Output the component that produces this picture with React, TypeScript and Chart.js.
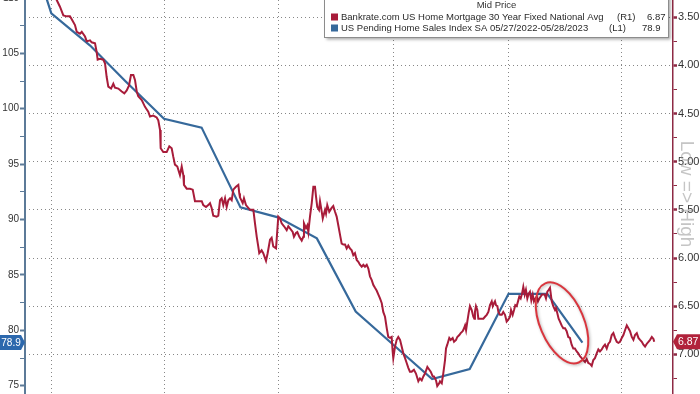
import React, { useEffect, useRef } from 'react';
import { Chart, registerables } from 'chart.js';

Chart.register(...registerables);

// ---------------- DATA ----------------
// x = days since 2021-12-11 (quarter starts: Jan 1 2022 = 21, Apr 1 = 111, ...)
const quarterStartDays = [21, 111, 202, 294, 386, 476];

// Bankrate.com US Home Mortgage 30 Year Fixed National Avg (R1, inverted)
const mortgageDays = [
  0, 8, 16, 21, 25.3, 27.9, 30.6, 33.3, 35.9, 37.3, 39.9, 41.3, 43.9, 45.3, 47.9, 49.3, 51.9, 53.2, 55.9, 57.2,
  58.0, 59.9, 62.5, 63.9, 65.2, 66.5, 68.7, 70.5, 71.8, 74.5, 77.2, 79.3, 81.2, 83.0, 84.6, 86.5, 87.8, 89.2, 90.4, 93.2,
  95.8, 98.4, 99.8, 102.4, 105.1, 106.4, 107.8, 108.3, 110.4, 113.1, 115.2, 117.1, 118.4, 119.7, 121.6, 123.7, 125.1, 126.4, 126.9, 129.1,
  131.7, 133.9, 135.7, 138.3, 141.1, 142.3, 144.5, 146.3, 147.7, 149.0, 150.3, 153.0, 154.3, 155.7, 157.0, 158.3, 159.7, 161.0, 162.3, 163.7,
  165.0, 166.3, 168.4, 170.3, 171.1, 171.6, 173.8, 174.8, 176.4, 179.6, 182.3, 183.6, 185.0, 186.2, 187.0, 188.9, 190.2, 192.4, 193.7, 195.6,
  196.9, 198.2, 200.4, 202.2, 203.6, 204.9, 206.8, 208.9, 210.2, 213.7, 214.7, 216.3, 217.4, 219.0, 220.9, 222.2, 222.7, 224.3, 225.4, 226.2,
  227.5, 228.9, 230.2, 231.5, 232.3, 233.3, 234.7, 235.5, 236.9, 237.7, 238.7, 239.5, 240.3, 241.3, 242.9, 244.8, 246.1, 247.5, 248.8, 250.1,
  251.5, 252.8, 254.1, 255.5, 256.8, 258.1, 259.4, 260.8, 262.1, 263.4, 264.8, 266.1, 267.4, 268.8, 270.1, 271.4, 272.8, 274.1, 275.4, 276.8,
  278.1, 279.4, 280.8, 282.1, 283.4, 284.8, 286.0, 287.4, 288.8, 290.0, 291.4, 292.7, 293.5, 294.0, 295.4, 296.7, 298.0, 299.4, 300.7, 302.0,
  303.4, 304.7, 306.0, 307.3, 308.7, 310.5, 312.1, 314.0, 315.3, 316.7, 318.0, 319.3, 321.2, 322.8, 323.9, 325.5, 326.5, 328.1, 329.1, 330.7,
  331.3, 332.7, 333.9, 335.3, 336.1, 337.1, 338.7, 339.8, 341.4, 342.5, 344.1, 345.1, 346.7, 347.8, 349.4, 350.5, 351.3, 352.1, 353.1, 354.2,
  355.2, 356.6, 357.9, 358.7, 359.2, 360.0, 361.1, 361.9, 363.2, 365.9, 367.2, 368.6, 369.9, 371.2, 372.6, 373.4, 374.4, 375.2, 376.0, 377.1,
  377.9, 379.2, 380.6, 381.8, 383.2, 384.5, 385.8, 387.2, 388.0, 389.3, 390.4, 391.4, 392.5, 393.8, 394.6, 395.7, 396.8, 397.8, 398.9, 399.9,
  401.0, 402.1, 403.1, 404.2, 405.3, 406.3, 407.4, 408.5, 409.5, 410.6, 411.7, 412.7, 414.9, 415.9, 417.0, 418.1, 419.1, 420.5, 421.7, 423.1,
  423.9, 424.9, 426.0, 427.1, 428.4, 429.7, 431.1, 432.4, 433.7, 435.0, 436.4, 437.7, 439.0, 440.4, 441.7, 443.0, 444.4, 445.7, 447.1, 448.4,
  449.7, 451.1, 452.4, 453.7, 455.0, 456.4, 457.7, 459.0, 460.4, 461.7, 463.0, 464.4, 465.7, 467.0, 468.4, 469.7, 471.0, 472.4, 473.7, 475.0,
  476.4, 477.7, 479.0, 480.4, 481.7, 483.0, 484.4, 485.7, 487.0, 488.4, 489.7, 491.0, 492.4, 493.7, 495.0, 496.4, 497.7, 499.0, 500.4, 501.7,
  502.3,
];
const mortgageRates = [
  3.12, 3.10, 3.13, 3.20, 3.32, 3.39, 3.48, 3.49, 3.49, 3.52, 3.58, 3.65, 3.67, 3.65, 3.70, 3.75, 3.74, 3.76, 3.77, 3.86,
  3.94, 3.93, 3.94, 3.98, 4.12, 4.22, 4.24, 4.19, 4.23, 4.24, 4.27, 4.29, 4.26, 4.21, 4.10, 4.10, 4.15, 4.27, 4.32, 4.36,
  4.43, 4.48, 4.53, 4.52, 4.54, 4.57, 4.67, 4.86, 4.90, 4.90, 4.84, 4.86, 4.95, 5.03, 5.05, 5.14, 5.05, 5.14, 5.24, 5.28,
  5.28, 5.29, 5.41, 5.41, 5.41, 5.45, 5.47, 5.45, 5.43, 5.48, 5.56, 5.57, 5.56, 5.40, 5.38, 5.45, 5.38, 5.47, 5.40, 5.38,
  5.40, 5.29, 5.26, 5.24, 5.33, 5.37, 5.43, 5.38, 5.45, 5.50, 5.50, 5.64, 5.78, 5.88, 5.95, 5.92, 5.95, 6.03, 5.95, 5.81,
  5.79, 5.88, 5.90, 5.57, 5.59, 5.64, 5.67, 5.71, 5.67, 5.73, 5.78, 5.74, 5.73, 5.78, 5.82, 5.78, 5.64, 5.69, 5.66, 5.73,
  5.57, 5.43, 5.26, 5.26, 5.36, 5.47, 5.50, 5.41, 5.52, 5.59, 5.54, 5.50, 5.54, 5.45, 5.52, 5.48, 5.46, 5.52, 5.57, 5.66,
  5.76, 5.85, 5.86, 5.86, 5.90, 5.87, 5.90, 5.92, 5.97, 5.95, 6.02, 6.04, 6.07, 6.09, 6.07, 6.09, 6.07, 6.11, 6.19, 6.23,
  6.28, 6.31, 6.34, 6.38, 6.42, 6.47, 6.56, 6.61, 6.73, 6.82, 6.83, 6.82, 6.97, 7.04, 6.92, 6.85, 6.82, 6.85, 6.92, 6.99,
  7.04, 7.09, 7.14, 7.18, 7.18, 7.16, 7.20, 7.28, 7.25, 7.27, 7.23, 7.20, 7.13, 7.16, 7.18, 7.23, 7.23, 7.27, 7.33, 7.30,
  7.28, 7.30, 7.20, 7.06, 6.94, 6.90, 6.83, 6.85, 6.83, 6.87, 6.85, 6.82, 6.80, 6.78, 6.76, 6.73, 6.70, 6.75, 6.66, 6.57,
  6.50, 6.54, 6.61, 6.63, 6.56, 6.50, 6.54, 6.63, 6.63, 6.63, 6.61, 6.59, 6.56, 6.49, 6.45, 6.50, 6.47, 6.45, 6.49, 6.50,
  6.56, 6.59, 6.59, 6.56, 6.59, 6.66, 6.64, 6.61, 6.54, 6.59, 6.54, 6.49, 6.50, 6.44, 6.40, 6.42, 6.37, 6.30, 6.38, 6.33,
  6.42, 6.37, 6.35, 6.44, 6.38, 6.45, 6.42, 6.40, 6.45, 6.42, 6.40, 6.38, 6.38, 6.42, 6.35, 6.33, 6.31, 6.45, 6.50, 6.54,
  6.52, 6.57, 6.63, 6.66, 6.70, 6.73, 6.73, 6.76, 6.82, 6.83, 6.90, 6.94, 6.94, 6.97, 6.99, 7.02, 7.04, 7.06, 7.08, 7.05,
  7.09, 7.10, 7.12, 7.06, 7.04, 6.99, 6.95, 6.97, 6.95, 6.92, 6.90, 6.94, 6.89, 6.87, 6.80, 6.78, 6.83, 6.87, 6.88, 6.87,
  6.83, 6.80, 6.75, 6.70, 6.73, 6.76, 6.82, 6.85, 6.80, 6.78, 6.83, 6.85, 6.87, 6.90, 6.92, 6.89, 6.87, 6.85, 6.82, 6.84,
  6.87,
];

// US Pending Home Sales Index SA (L1), monthly
const phsDays = [-10, 21, 52, 80, 111, 141, 172, 202, 233, 264, 294, 325, 355, 386, 417, 445];
const phsValues = [119.5, 108.6, 105.7, 102.5, 99.1, 98.3, 91.1, 90.2, 88.3, 81.7, 78.7, 75.6, 76.5, 83.3, 83.3, 78.9];

const legendTitle = 'Mid Price';
const seriesNames = [
  'Bankrate.com US Home Mortgage 30 Year Fixed National Avg',
  'US Pending Home Sales Index SA 05/27/2022-05/28/2023',
];
const seriesAxisTags = ['(R1)', '(L1)'];
const lastValueLabels = ['6.87', '78.9'];
const lastValues = [6.87, 78.9];
const invertedNote = 'Low => High';
const circleCenter = { day: 428.7, rate: 6.674 };

// ---------------- STYLE ----------------
const FONT = "'Liberation Sans', Arial, sans-serif";
const RED = '#a81c3a';
const BLUE = '#36699b';
const GRID = 'rgba(105,105,105,0.8)';
const LEFT_AXIS = '#5c7a98';
const RIGHT_AXIS = '#8e2a44';
const OFF = 20; // canvas is shifted 20px above the page top

const isHalf = (v: number) => Math.abs(v * 2 - Math.round(v * 2)) < 1e-6;
const isFive = (v: number) => Math.abs(v / 5 - Math.round(v / 5)) < 1e-6;

const noPad = (s: any) => {
  s.paddingTop = 0;
  s.paddingBottom = 0;
  s.paddingLeft = 0;
  s.paddingRight = 0;
};

const overlayPlugin = {
  id: 'overlay',
  afterDatasetsDraw(chart: any) {
    const { ctx, scales } = chart;
    const cx = scales.x.getPixelForValue(circleCenter.day);
    const cy = scales.yR.getPixelForValue(circleCenter.rate);
    ctx.save();
    ctx.beginPath();
    ctx.ellipse(cx, cy, 22, 43, -0.4, 0, Math.PI * 2);
    ctx.strokeStyle = '#d9363e';
    ctx.lineWidth = 2;
    ctx.shadowColor = 'rgba(0,0,0,0.3)';
    ctx.shadowBlur = 3;
    ctx.shadowOffsetX = 1;
    ctx.shadowOffsetY = 1;
    ctx.stroke();
    ctx.restore();
  },
  afterDraw(chart: any) {
    const { ctx, scales, chartArea } = chart;
    ctx.save();

    // rotated "Low => High" note
    ctx.save();
    ctx.translate(chartArea.right + 13, 194 + OFF);
    ctx.rotate(Math.PI / 2);
    ctx.font = `19px ${FONT}`;
    ctx.fillStyle = 'rgba(140,140,140,0.5)';
    ctx.textAlign = 'center';
    ctx.textBaseline = 'middle';
    ctx.fillText(invertedNote, 0, 0);
    ctx.restore();

    // legend box
    const bx = 324, bw = 345, by = -6 + OFF, bh = 44;
    ctx.save();
    ctx.shadowColor = 'rgba(0,0,0,0.35)';
    ctx.shadowBlur = 3;
    ctx.shadowOffsetX = 1.5;
    ctx.shadowOffsetY = 1.5;
    ctx.fillStyle = '#ffffff';
    ctx.fillRect(bx, by, bw, bh);
    ctx.restore();
    ctx.strokeStyle = '#8c8c8c';
    ctx.lineWidth = 1;
    ctx.strokeRect(bx + 0.5, by + 0.5, bw - 1, bh - 1);

    ctx.fillStyle = '#333';
    ctx.textBaseline = 'middle';
    ctx.font = `9.5px ${FONT}`;
    ctx.textAlign = 'center';
    ctx.fillText(legendTitle, bx + bw / 2, 5 + OFF);
    ctx.textAlign = 'left';
    const rowY = [17, 28];
    const colors = [RED, BLUE];
    const tagX = [617, 609];
    const valX = [647, 642];
    for (let i = 0; i < 2; i++) {
      const y = rowY[i] + OFF;
      ctx.fillStyle = colors[i];
      ctx.fillRect(331, y - 3.5, 7, 7);
      ctx.fillStyle = '#2a2a2a';
      ctx.fillText(seriesNames[i], 341, y);
      ctx.fillText(seriesAxisTags[i], tagX[i], y);
      ctx.fillText(lastValueLabels[i], valX[i], y);
    }

    // last value tags
    const ly = scales.yL.getPixelForValue(lastValues[1]);
    ctx.fillStyle = '#2c68ad';
    ctx.beginPath();
    ctx.moveTo(0, ly - 7.5);
    ctx.lineTo(21, ly - 7.5);
    ctx.lineTo(25, ly);
    ctx.lineTo(21, ly + 7.5);
    ctx.lineTo(0, ly + 7.5);
    ctx.closePath();
    ctx.fill();
    ctx.fillStyle = '#fff';
    ctx.font = `10px ${FONT}`;
    ctx.textAlign = 'center';
    ctx.fillText(lastValueLabels[1], 11, ly + 0.5);

    const ry = scales.yR.getPixelForValue(lastValues[0]);
    const rx = chartArea.right;
    ctx.fillStyle = '#b1223b';
    ctx.beginPath();
    ctx.moveTo(rx, ry);
    ctx.lineTo(rx + 4, ry - 7.5);
    ctx.lineTo(700, ry - 7.5);
    ctx.lineTo(700, ry + 7.5);
    ctx.lineTo(rx + 4, ry + 7.5);
    ctx.closePath();
    ctx.fill();
    ctx.fillStyle = '#fff';
    ctx.font = `10.5px ${FONT}`;
    ctx.textAlign = 'left';
    ctx.fillText(lastValueLabels[0], rx + 5, ry + 0.5);

    ctx.restore();
  },
};

export default function App() {
  const ref = useRef<HTMLCanvasElement>(null);
  useEffect(() => {
    const canvas = ref.current;
    if (!canvas) return;
    Chart.defaults.font.family = FONT;
    const chart = new Chart(canvas, {
      type: 'line',
      data: {
        datasets: [
          {
            label: seriesNames[0],
            data: mortgageDays.map((d, i) => ({ x: d, y: mortgageRates[i] })),
            yAxisID: 'yR',
            borderColor: RED,
            borderWidth: 2,
            pointRadius: 0,
            tension: 0,
          },
          {
            label: seriesNames[1],
            data: phsDays.map((d, i) => ({ x: d, y: phsValues[i] })),
            yAxisID: 'yL',
            borderColor: BLUE,
            borderWidth: 2.2,
            pointRadius: 0,
            tension: 0,
          },
        ],
      },
      options: {
        animation: false,
        responsive: false,
        events: [],
        layout: { padding: 0, autoPadding: false },
        plugins: { legend: { display: false }, tooltip: { enabled: false } },
        scales: {
          x: {
            type: 'linear',
            position: 'bottom',
            min: 0,
            max: 517.3,
            afterBuildTicks: (s: any) => {
              s.ticks = quarterStartDays.map((v) => ({ value: v }));
            },
            afterFit: (s: any) => {
              s.height = 0;
              noPad(s);
            },
            ticks: { display: false },
            grid: { color: GRID, lineWidth: 1, drawTicks: false },
            border: { display: false, dash: [1, 3] },
          },
          yL: {
            type: 'linear',
            position: 'left',
            min: 72.45,
            max: 111.62,
            afterFit: (s: any) => {
              s.width = 25;
              noPad(s);
            },
            ticks: {
              stepSize: 2.5,
              includeBounds: false,
              autoSkip: false,
              padding: 1,
              color: '#333',
              font: { size: 10, family: FONT },
              callback: (v: any) => (isFive(Number(v)) ? String(v) : ''),
            },
            grid: {
              drawOnChartArea: false,
              drawTicks: true,
              tickLength: 5,
              tickColor: LEFT_AXIS,
              tickWidth: (c: any) => (c.tick && isFive(c.tick.value) ? 2 : 1),
            },
            border: { display: true, color: LEFT_AXIS, width: 2 },
          },
          yR: {
            type: 'linear',
            position: 'right',
            reverse: true,
            min: 3.1126,
            max: 7.62,
            afterFit: (s: any) => {
              s.width = 27;
              noPad(s);
            },
            ticks: {
              stepSize: 0.25,
              includeBounds: false,
              autoSkip: false,
              padding: 1,
              color: '#333',
              font: { size: 11, family: FONT },
              callback: (v: any) => (isHalf(Number(v)) ? Number(v).toFixed(2) : ''),
            },
            grid: {
              drawOnChartArea: true,
              color: (c: any) => (c.tick && isHalf(c.tick.value) ? GRID : 'rgba(0,0,0,0)'),
              lineWidth: 1,
              drawTicks: true,
              tickLength: 4,
              tickColor: RIGHT_AXIS,
              tickWidth: (c: any) => (c.tick && isHalf(c.tick.value) ? 2.5 : 1),
            },
            border: { display: true, color: RIGHT_AXIS, width: 1.5, dash: [1, 3] },
          },
        },
      } as any,
      plugins: [overlayPlugin],
    });
    return () => chart.destroy();
  }, []);

  return (
    <div style={{ position: 'fixed', left: 0, top: -OFF, width: 700, height: 434, background: '#fff' }}>
      <canvas ref={ref} width={700} height={434} style={{ display: 'block' }} />
    </div>
  );
}
